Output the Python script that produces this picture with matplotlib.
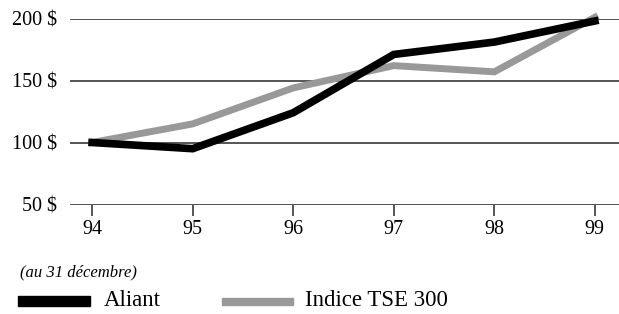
import matplotlib.pyplot as plt
from matplotlib.patches import Rectangle

years = [94, 95, 96, 97, 98, 99]
year_labels = ["94", "95", "96", "97", "98", "99"]
aliant = [100, 95, 124, 171, 181, 198]
tse300 = [100, 115, 144, 162, 157, 201]
y_ticks = [50, 100, 150, 200]
y_labels = ["50 $", "100 $", "150 $", "200 $"]

plt.rcParams["font.family"] = ["Liberation Serif", "DejaVu Serif"]

fig = plt.figure(figsize=(6.19, 3.14), dpi=100)
ax = fig.add_axes([70 / 619, 1 - 204.5 / 314, 1 - 70 / 619, (204.5 - 18.5) / 314])

grid_col = "#555555"
for v in y_ticks:
    ax.axhline(v, color=grid_col, lw=1.4, zorder=1)

ax.plot(years, tse300, color="#999999", lw=5.0, solid_joinstyle="miter",
        clip_on=False, zorder=2)
ax.plot(years, aliant, color="black", lw=5.5, solid_joinstyle="miter",
        clip_on=False, zorder=3)

ax.set_xlim(93.78, 99.24)
ax.set_ylim(50, 200)
for s in ax.spines.values():
    s.set_visible(False)

ax.set_xticks(years)
ax.set_xticklabels(year_labels, fontsize=14.5)
ax.tick_params(axis="x", direction="out", length=8, width=1.4, color=grid_col, pad=3.5)
ax.set_yticks(y_ticks)
ax.set_yticklabels(y_labels, fontsize=14.5)
ax.tick_params(axis="y", length=0, pad=9.5)

fig.text(20 / 619, 1 - 272 / 314, "(au 31 décembre)", fontsize=12, style="italic",
         va="center", ha="left")

fig.add_artist(Rectangle((18 / 619, 1 - 306 / 314), 72 / 619, 10 / 314,
                         transform=fig.transFigure, color="black"))
fig.text(104 / 619, 1 - 300 / 314, "Aliant", fontsize=16.5, va="center", ha="left")
fig.add_artist(Rectangle((222 / 619, 1 - 304.5 / 314), 71 / 619, 7 / 314,
                         transform=fig.transFigure, color="#999999"))
fig.text(305 / 619, 1 - 300 / 314, "Indice TSE 300", fontsize=16.5, va="center", ha="left")

fig.savefig("out.png", dpi=100)
